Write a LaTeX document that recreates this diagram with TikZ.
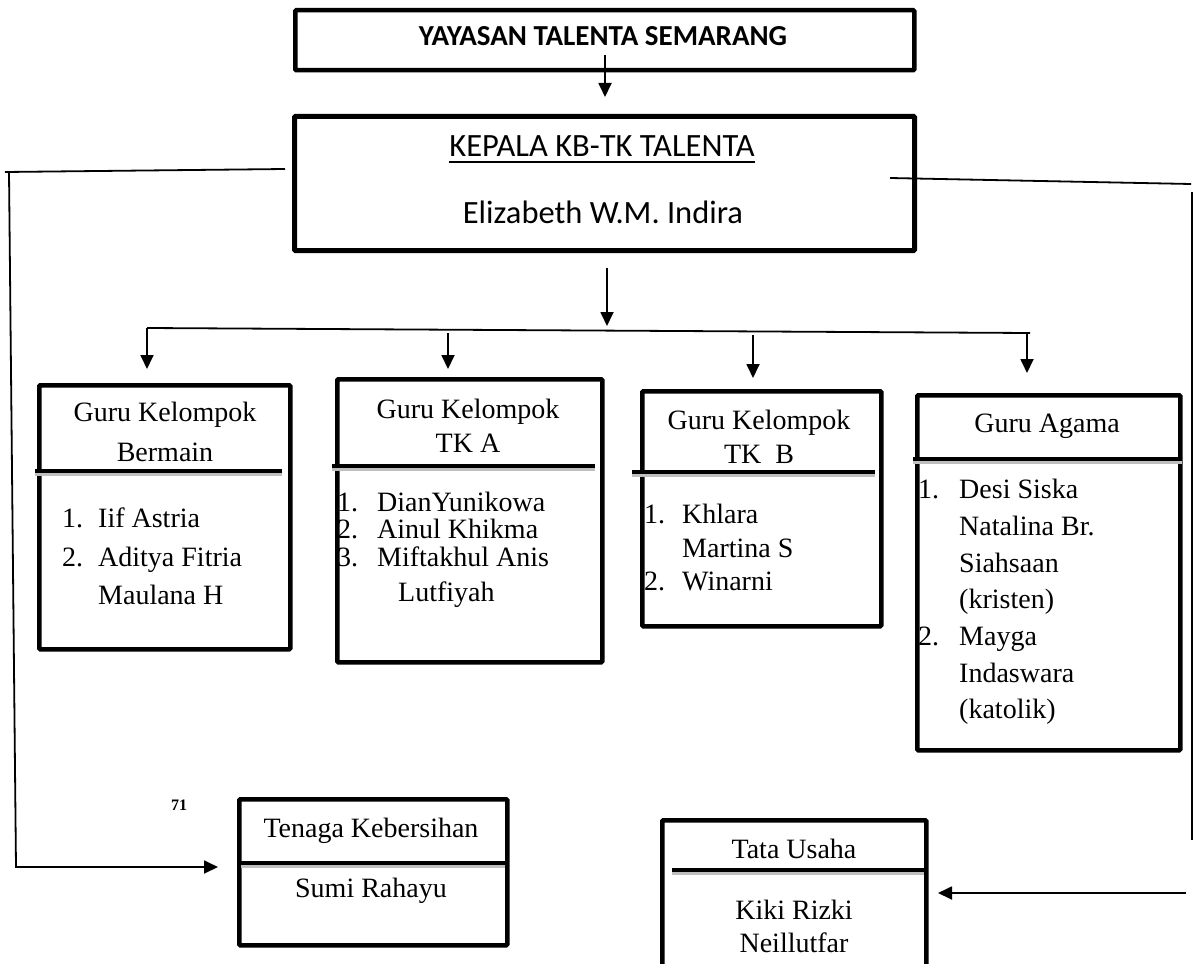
\documentclass[tikz,border=0pt]{standalone}
\usepackage{fontspec}
\setmainfont{Liberation Serif}
\newfontfamily\calfont{Carlito}
\usetikzlibrary{arrows.meta,calc}
\begin{document}
\begin{tikzpicture}[x=1pt,y=-1pt,
  box/.style={draw, line width=4.5pt, inner sep=0pt, rounded corners=1pt, anchor=north west},
  conn/.style={line width=1.8pt},
  arr/.style={line width=1.8pt, -{Triangle[length=14pt,width=13pt]}},
  divl/.style={line width=4pt},
  shad/.style={line width=4pt, black!25},
  txt/.style={inner sep=0pt, font=\fontsize{28}{34}\selectfont},
  ctxt/.style={txt, anchor=base},
  ltxt/.style={txt, anchor=base west},
]
\useasboundingbox (0,0) rectangle (1193,963);

% ---------- boxes ----------
\node[box, minimum width=619pt, minimum height=60pt] (top) at (293,8) {};
\node[box, line width=5pt, minimum width=620pt, minimum height=134pt] (kep) at (292,114) {};
\node[box, minimum width=251pt, minimum height=264pt] (b1) at (37,383) {};
\node[box, minimum width=265pt, minimum height=283pt] (b2) at (335,377) {};
\node[box, minimum width=239pt, minimum height=235pt] (b3) at (640,389) {};
\node[box, minimum width=263pt, minimum height=355pt] (b4) at (915,393) {};
\node[box, minimum width=268pt, minimum height=146pt] (ten) at (237,797) {};
\node[box, minimum width=264pt, minimum height=170pt] (tata) at (660,818) {};

% ---------- dividers ----------
\coordinate (d1a) at (35,471);  \coordinate (d1b) at (282,471);
\coordinate (d2a) at (332,466); \coordinate (d2b) at (595,466);
\coordinate (d3a) at (632,472); \coordinate (d3b) at (875,472);
\coordinate (d4a) at (913,459); \coordinate (d4b) at (1182,459);
\coordinate (d5a) at (241,863); \coordinate (d5b) at (505,863);
\coordinate (d6a) at (672,870); \coordinate (d6b) at (924,870);
\foreach \d in {1,...,6}{
  \draw[shad] ([yshift=-3pt]d\d a) -- ([yshift=-3pt]d\d b);
  \draw[divl] (d\d a) -- (d\d b);
}

% ---------- texts ----------
\node[inner sep=0pt, anchor=base, font=\calfont\bfseries\fontsize{29}{34}\selectfont] (tt) at (603,46) {YAYASAN TALENTA SEMARANG};
\node[inner sep=0pt, anchor=base, font=\calfont\fontsize{32.5}{38}\selectfont] (kt) at (602,157) {KEPALA KB-TK TALENTA};
\draw[line width=1.6pt] ([yshift=-5pt]kt.base west) -- ([yshift=-5pt]kt.base east);
\node[inner sep=0pt, anchor=base, font=\calfont\fontsize{32.5}{38}\selectfont] (kn) at (603,223) {Elizabeth W.M. Indira};

% box 1
\node[ctxt] (b1t1) at (165,421) {Guru Kelompok};
\node[ctxt] (b1t2) at (165,461) {Bermain};
\node[ltxt] (b1n1) at (62,527) {1.};
\node[ltxt] (b1i1) at (98,527) {Iif Astria};
\node[ltxt] (b1n2) at (62,566) {2.};
\node[ltxt] (b1i2) at (98,566) {Aditya Fitria};
\node[ltxt] (b1i3) at (98,604) {Maulana H};

% box 2
\node[ctxt] (b2t1) at (468,418) {Guru Kelompok};
\node[ctxt] (b2t2) at (468,452) {TK A};
\node[ltxt] (b2n1) at (337,511) {1.};
\node[ltxt] (b2i1) at (377,511) {DianYunikowa};
\node[ltxt] (b2n2) at (337,538) {2.};
\node[ltxt] (b2i2) at (377,538) {Ainul Khikma};
\node[ltxt] (b2n3) at (337,566) {3.};
\node[ltxt] (b2i3) at (377,566) {Miftakhul Anis};
\node[ltxt] (b2i4) at (398,601) {Lutfiyah};

% box 3
\node[ctxt] (b3t1) at (759,429) {Guru Kelompok};
\node[ctxt] (b3t2) at (759,463) {TK\ \ B};
\node[ltxt] (b3n1) at (644,523) {1.};
\node[ltxt] (b3i1) at (682,523) {Khlara};
\node[ltxt] (b3i2) at (682,557) {Martina S};
\node[ltxt] (b3n2) at (644,590) {2.};
\node[ltxt] (b3i3) at (682,590) {Winarni};

% box 4
\node[ctxt] (b4t1) at (1047,432) {Guru Agama};
\node[ltxt] (b4n1) at (918,498) {1.};
\node[ltxt] (b4i1) at (959,498) {Desi Siska};
\node[ltxt] (b4i2) at (959,535) {Natalina Br.};
\node[ltxt] (b4i3) at (959,572) {Siahsaan};
\node[ltxt] (b4i4) at (959,608) {(kristen)};
\node[ltxt] (b4n2) at (918,645) {2.};
\node[ltxt] (b4i5) at (959,645) {Mayga};
\node[ltxt] (b4i6) at (959,682) {Indaswara};
\node[ltxt] (b4i7) at (959,718) {(katolik)};

% bottom boxes
\node[ctxt] (tent) at (371,837) {Tenaga Kebersihan};
\node[ctxt] (tenn) at (371,897) {Sumi Rahayu};
\node[ctxt] (tatt) at (794,858) {Tata Usaha};
\node[ctxt] (tat1) at (794,919) {Kiki Rizki};
\node[ctxt] (tat2) at (794,952) {Neillutfar};

\node[inner sep=0pt, font=\bfseries\fontsize{16}{19}\selectfont] (pg) at (179,805) {71};

% ---------- connectors ----------
\coordinate (ya) at (605,55);  \coordinate (yb) at (605,97);
\draw[arr] (ya) -- (yb);

\coordinate (ca) at (607,268); \coordinate (cb) at (607,326);
\draw[arr] (ca) -- (cb);

\coordinate (hl) at (147,328); \coordinate (hr) at (1030,333);
\draw[conn] (hl) -- (hr);

\coordinate (a1) at (147,328);  \coordinate (e1) at (147,369);
\coordinate (a2) at (448,333);  \coordinate (e2) at (448,369);
\coordinate (a3) at (753,335);  \coordinate (e3) at (753,378);
\coordinate (a4) at (1027,333); \coordinate (e4) at (1027,373);
\foreach \i in {1,...,4}{ \draw[arr] (a\i) -- (e\i); }

% left line
\coordinate (l0) at (285,169); \coordinate (l1) at (5,172);
\coordinate (l2) at (9,172);   \coordinate (l3) at (16,867);
\coordinate (l4) at (218,867);
\draw[conn] (l0) -- (l1);
\draw[arr] (l2) -- (l3) -- (l4);

% right line
\coordinate (r0) at (890,178); \coordinate (r1) at (1191,184);
\coordinate (r2) at (1192,192); \coordinate (r3) at (1192,840);
\coordinate (r4) at (1186,893); \coordinate (r5) at (938,893);
\draw[conn] (r0) -- (r1);
\draw[conn] (r2) -- (r3);
\draw[arr] (r4) -- (r5);
\end{tikzpicture}
\end{document}
